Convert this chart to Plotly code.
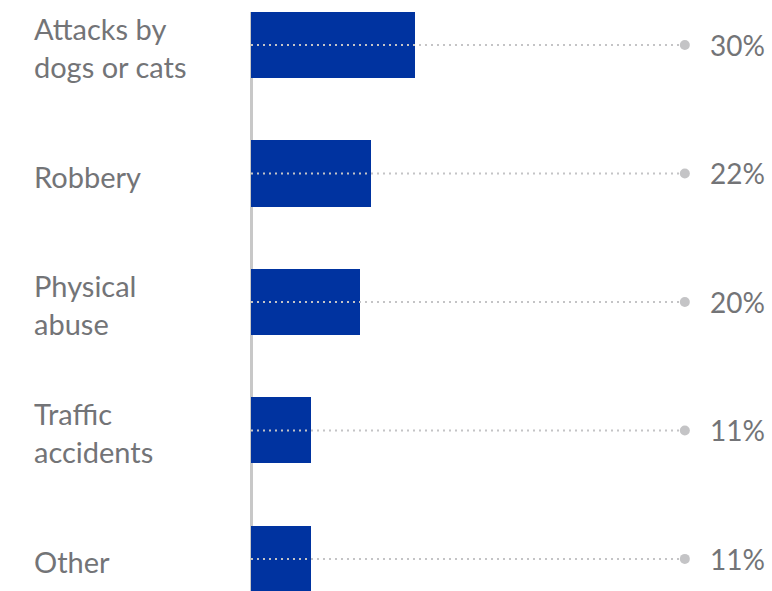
import plotly.graph_objects as go

# Share of reported cases by cause
categories = ["Attacks by<br>dogs or cats", "Robbery", "Physical<br>abuse", "Traffic<br>accidents", "Other"]
values = [30, 22, 20, 11, 11]
value_labels = ["30%", "22%", "20%", "11%", "11%"]

BAR_COLOR = "#0033a0"
TEXT_COLOR = "#737477"
GUIDE_COLOR = "#c4c4c6"
FONT = "Lato, 'Open Sans', sans-serif"

GUIDE_END = 79.4     # where the dotted guide lines stop (data units)
LABEL_X = 83.6       # left edge of the percentage labels (data units)

ids = list(range(len(categories)))

fig = go.Figure()

fig.add_trace(go.Bar(
    x=values, y=ids, orientation="h",
    marker=dict(color=BAR_COLOR, line=dict(width=0)),
    width=0.514, hoverinfo="skip", showlegend=False,
))

# dotted guides from the axis to the value labels
for i in ids:
    fig.add_trace(go.Scatter(
        x=[0, GUIDE_END], y=[i, i], mode="lines",
        line=dict(color=GUIDE_COLOR, width=2, dash="2px,4px"),
        hoverinfo="skip", showlegend=False,
    ))
fig.add_trace(go.Scatter(
    x=[GUIDE_END] * len(ids), y=ids, mode="markers",
    marker=dict(color=GUIDE_COLOR, size=10),
    hoverinfo="skip", showlegend=False,
))

for i, (cat, lab) in enumerate(zip(categories, value_labels)):
    fig.add_annotation(
        x=0.041, xref="paper", y=i + 0.02, yref="y", text=cat,
        showarrow=False, xanchor="left", yanchor="middle", align="left",
        font=dict(family=FONT, size=29, color=TEXT_COLOR),
    )
    fig.add_annotation(
        x=LABEL_X, xref="x", y=i, yref="y", text=lab,
        showarrow=False, xanchor="left", yanchor="middle",
        font=dict(family=FONT, size=28, color=TEXT_COLOR),
    )

k = 5.464  # pixels per percentage point
fig.update_xaxes(
    range=[-251 / k, (772 - 251) / k],
    showgrid=False, showticklabels=False, ticks="",
    zeroline=True, zerolinecolor="#c8c8c8", zerolinewidth=3,
    fixedrange=True,
)
fig.update_yaxes(
    range=[4.25, -0.257],
    showgrid=False, showticklabels=False, ticks="", zeroline=False,
    fixedrange=True,
)
fig.update_layout(
    width=772, height=591,
    margin=dict(l=0, r=0, t=12, b=0),
    paper_bgcolor="white", plot_bgcolor="white",
    bargap=0,
)

fig.write_html("out.html")
